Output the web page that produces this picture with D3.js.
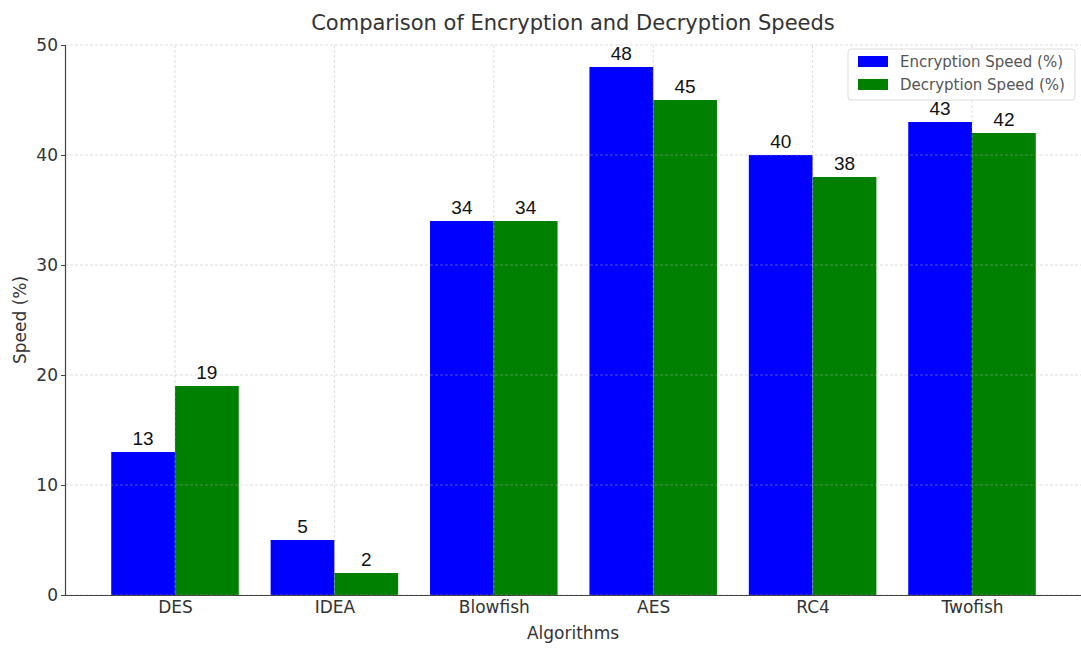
<!DOCTYPE html>
<html>
<head>
<meta charset="utf-8">
<script src="https://cdn.jsdelivr.net/npm/d3@7"></script>
<style>
  body { margin: 0; background: #fff; }
  svg { display: block; font-family: "DejaVu Sans", sans-serif; }
</style>
</head>
<body>
<svg id="chart" width="1081" height="648"></svg>
<script>
// Chart data
const algorithms = ["DES", "IDEA", "Blowfish", "AES", "RC4", "Twofish"];
const encryptionSpeed = [13, 5, 34, 48, 40, 43];
const decryptionSpeed = [19, 2, 34, 45, 38, 42];
const yTicks = [0, 10, 20, 30, 40, 50];
const seriesNames = ["Encryption Speed (%)", "Decryption Speed (%)"];
const seriesColors = ["#0000ff", "#008000"];

const svg = d3.select("#chart");
const margin = { left: 65, right: -1, top: 45, bottom: 53 };
const W = 1081, H = 648;
const plotL = margin.left, plotR = W - margin.right;
const plotT = margin.top, plotB = H - margin.bottom;

// Numeric x scale over category index, with matplotlib-style margins
const barW = 0.4;
const xMin = -barW, xMax = algorithms.length - 1 + barW;
const pad = (xMax - xMin) * 0.05;
const x = d3.scaleLinear().domain([xMin - pad, xMax + pad]).range([plotL, plotR]);
const y = d3.scaleLinear().domain([0, 50]).range([plotB, plotT]);

const series = [encryptionSpeed, decryptionSpeed];

// Bars
series.forEach((vals, s) => {
  svg.append("g").selectAll("rect")
    .data(vals)
    .join("rect")
    .attr("x", (d, i) => x(i - barW + s * barW))
    .attr("width", (d, i) => x(i + s * barW) - x(i - barW + s * barW))
    .attr("y", d => y(d))
    .attr("height", d => y(0) - y(d))
    .attr("fill", seriesColors[s]);
});

// Grid (drawn above the bars)
const grid = svg.append("g").attr("stroke", "#b0b0b0").attr("stroke-opacity", 0.55)
  .attr("stroke-dasharray", "3,2").attr("stroke-width", 0.8);
yTicks.forEach(t => {
  grid.append("line").attr("x1", plotL).attr("x2", plotR).attr("y1", y(t)).attr("y2", y(t));
});
algorithms.forEach((a, i) => {
  grid.append("line").attr("x1", x(i)).attr("x2", x(i)).attr("y1", plotT).attr("y2", plotB);
});

// Axes
const yAxis = d3.axisLeft(y).tickValues(yTicks).tickSize(4).tickPadding(3);
const gy = svg.append("g").attr("transform", `translate(${plotL},0)`).call(yAxis);
gy.select(".domain").attr("stroke", "#444").attr("stroke-width", 1.2);
gy.selectAll(".tick line").attr("stroke", "#444");
gy.selectAll(".tick text").attr("font-size", 17).attr("fill", "#333")
  .attr("font-family", "DejaVu Sans, sans-serif");

const xAxis = d3.axisBottom(x).tickValues(d3.range(algorithms.length))
  .tickFormat(i => algorithms[i]).tickSize(0).tickPadding(6);
const gx = svg.append("g").attr("transform", `translate(0,${plotB})`).call(xAxis);
gx.select(".domain").attr("stroke", "#444").attr("stroke-width", 1.2);
gx.selectAll(".tick text").attr("font-size", 17).attr("fill", "#333")
  .attr("font-family", "DejaVu Sans, sans-serif");

// Titles
svg.append("text").attr("x", 573).attr("y", 30).attr("text-anchor", "middle")
  .attr("font-size", 21).attr("fill", "#333").text("Comparison of Encryption and Decryption Speeds");
svg.append("text").attr("x", 573).attr("y", 639).attr("text-anchor", "middle")
  .attr("font-size", 17).attr("fill", "#333").text("Algorithms");
svg.append("text").attr("transform", `translate(26,${(plotT + plotB) / 2}) rotate(-90)`)
  .attr("text-anchor", "middle").attr("font-size", 17).attr("fill", "#333").text("Speed (%)");

// Legend
const lg = svg.append("g").attr("transform", "translate(848,49)");
lg.append("rect").attr("width", 227).attr("height", 51).attr("rx", 3)
  .attr("fill", "#fff").attr("fill-opacity", 0.85).attr("stroke", "#ddd");
seriesNames.forEach((n, s) => {
  lg.append("rect").attr("x", 10).attr("y", 7 + s * 23).attr("width", 30).attr("height", 11)
    .attr("fill", seriesColors[s]);
  lg.append("text").attr("x", 52).attr("y", 18 + s * 23).attr("font-size", 15)
    .attr("fill", "#555").text(n);
});

// Value labels above each bar
series.forEach((vals, s) => {
  svg.append("g").selectAll("text")
    .data(vals)
    .join("text")
    .attr("x", (d, i) => x(i - barW / 2 + s * barW))
    .attr("y", d => y(d) - 7)
    .attr("text-anchor", "middle")
    .attr("font-family", "'Liberation Sans', Arial, sans-serif")
    .attr("font-size", 19)
    .attr("fill", "#111")
    .text(d => d);
});
</script>
</body>
</html>
